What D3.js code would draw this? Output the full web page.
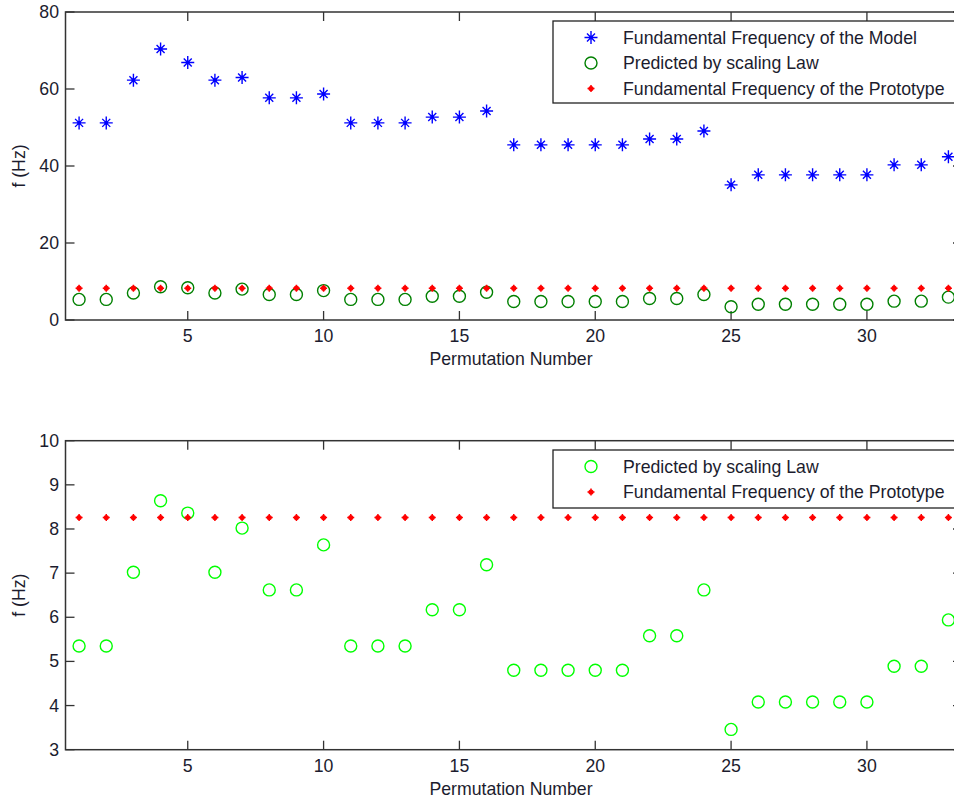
<!DOCTYPE html>
<html>
<head>
<meta charset="utf-8">
<script src="https://cdn.jsdelivr.net/npm/d3@7"></script>
<style>
  body { margin: 0; background: #fff; }
  text { font-family: "Liberation Sans", Arial, sans-serif; fill: #1c1c2e; }
</style>
</head>
<body>
<svg id="chart" width="954" height="801"></svg>
<script>
const permutation = [1,2,3,4,5,6,7,8,9,10,11,12,13,14,15,16,17,18,19,20,21,22,23,24,25,26,27,28,29,30,31,32,33];
const modelFreq = [51.2, 51.2, 62.3, 70.4, 66.9, 62.3, 63.0, 57.7, 57.7, 58.7, 51.2, 51.2, 51.2, 52.7, 52.7, 54.3,
    45.5, 45.5, 45.5, 45.5, 45.5, 47.0, 47.0, 49.1, 35.1, 37.7, 37.7, 37.7, 37.7, 37.7, 40.3, 40.3, 42.4];
const predicted = [5.35, 5.35, 7.02, 8.64, 8.36, 7.02, 8.02, 6.62, 6.62, 7.64, 5.35, 5.35, 5.35, 6.17, 6.17, 7.19,
    4.80, 4.80, 4.80, 4.80, 4.80, 5.58, 5.58, 6.62, 3.46, 4.08, 4.08, 4.08, 4.08, 4.08, 4.89, 4.89, 5.94];
const prototype = [8.26, 8.26, 8.26, 8.26, 8.26, 8.26, 8.26, 8.26, 8.26, 8.26, 8.26, 8.26, 8.26, 8.26, 8.26, 8.26,
    8.26, 8.26, 8.26, 8.26, 8.26, 8.26, 8.26, 8.26, 8.26, 8.26, 8.26, 8.26, 8.26, 8.26, 8.26, 8.26, 8.26];

const xTicks = [5, 10, 15, 20, 25, 30];
const topYTicks = [0, 20, 40, 60, 80];
const bottomYTicks = [3, 4, 5, 6, 7, 8, 9, 10];

const svg = d3.select("#chart");
const axisColor = "#333";
const tickLen = 9;
const fontSize = 17.7;

// x scale shared by both panels (right edge runs past the window)
const x = d3.scaleLinear().domain([0.5, 33.5]).range([65.5, 962]);

function asterisk(g, color) {
    g.append("path")
        .attr("d", "M-6.5,0H6.5M0,-6.5V6.5M-4,-4L4,4M-4,4L4,-4")
        .attr("stroke", color)
        .attr("stroke-width", 1.4)
        .attr("fill", "none");
    g.append("circle").attr("r", 1.8).attr("fill", color);
}

function panel(top, bottom, yDomain, yTicks, series, legendItems, legendBox) {
    const y = d3.scaleLinear().domain(yDomain).range([bottom, top]);
    const g = svg.append("g");

    // frame
    g.append("rect")
        .attr("x", x.range()[0]).attr("y", top)
        .attr("width", x.range()[1] - x.range()[0]).attr("height", bottom - top)
        .attr("fill", "none").attr("stroke", axisColor).attr("stroke-width", 1.5);

    // ticks, drawn inward on all sides
    const tk = g.append("g").attr("stroke", axisColor).attr("stroke-width", 1.3);
    xTicks.forEach(v => {
        tk.append("line").attr("x1", x(v)).attr("x2", x(v)).attr("y1", bottom).attr("y2", bottom - tickLen);
        tk.append("line").attr("x1", x(v)).attr("x2", x(v)).attr("y1", top).attr("y2", top + tickLen);
    });
    yTicks.forEach(v => {
        tk.append("line").attr("x1", x.range()[0]).attr("x2", x.range()[0] + tickLen).attr("y1", y(v)).attr("y2", y(v));
        tk.append("line").attr("x1", x.range()[1]).attr("x2", x.range()[1] - tickLen).attr("y1", y(v)).attr("y2", y(v));
    });

    // tick labels
    g.selectAll(".xl").data(xTicks).enter().append("text")
        .attr("x", d => x(d)).attr("y", bottom + 22)
        .attr("text-anchor", "middle").attr("font-size", fontSize)
        .text(d => d);
    g.selectAll(".yl").data(yTicks).enter().append("text")
        .attr("x", 59).attr("y", d => y(d) + 6)
        .attr("text-anchor", "end").attr("font-size", fontSize)
        .text(d => d);

    // axis titles
    g.append("text")
        .attr("x", 511).attr("y", bottom + 45)
        .attr("text-anchor", "middle").attr("font-size", fontSize)
        .text("Permutation Number");
    g.append("text")
        .attr("transform", `translate(25,${(top + bottom) / 2}) rotate(-90)`)
        .attr("text-anchor", "middle").attr("font-size", fontSize)
        .text("f (Hz)");

    // data marks
    series.forEach(s => {
        const pts = g.append("g").selectAll("g")
            .data(permutation.map((p, i) => [p, s.values[i]]))
            .enter().append("g")
            .attr("transform", d => `translate(${x(d[0])},${y(d[1])})`);
        s.draw(pts);
    });

    // legend
    const lg = g.append("g");
    lg.append("rect")
        .attr("x", legendBox.x).attr("y", legendBox.y)
        .attr("width", legendBox.w).attr("height", legendBox.h)
        .attr("fill", "#fff").attr("stroke", "#222").attr("stroke-width", 1.3);
    legendItems.forEach((s, i) => {
        const cy = legendBox.y + 16.5 + i * 25.5;
        const m = lg.append("g").attr("transform", `translate(591,${cy})`);
        s.draw(m);
        lg.append("text").attr("x", 623).attr("y", cy + 6)
            .attr("font-size", fontSize).text(s.label);
    });
}

const modelSeries = {
    label: "Fundamental Frequency of the Model", values: modelFreq,
    draw: sel => sel.each(function () { asterisk(d3.select(this), "#0000ff"); })
};
const predTop = {
    label: "Predicted by scaling Law", values: predicted,
    draw: sel => sel.append("circle").attr("r", 6).attr("fill", "none")
        .attr("stroke", "#008000").attr("stroke-width", 1.4)
};
const predBottom = {
    label: "Predicted by scaling Law", values: predicted,
    draw: sel => sel.append("circle").attr("r", 6).attr("fill", "none")
        .attr("stroke", "#00ff00").attr("stroke-width", 1.4)
};
const protoSeries = {
    label: "Fundamental Frequency of the Prototype", values: prototype,
    draw: sel => {
        sel.append("circle").attr("r", 2.6).attr("fill", "#ff0000");
        sel.append("path").attr("d", "M-3.5,0H3.5M0,-3.5V3.5")
            .attr("stroke", "#ff0000").attr("stroke-width", 1.5);
    }
};

panel(12, 320, [0, 80], topYTicks,
    [modelSeries, predTop, protoSeries],
    [modelSeries, predTop, protoSeries],
    {x: 553, y: 21, w: 405, h: 82});

panel(440.7, 749.7, [3, 10], bottomYTicks,
    [predBottom, protoSeries],
    [predBottom, protoSeries],
    {x: 553, y: 450, w: 405, h: 58});
</script>
</body>
</html>
